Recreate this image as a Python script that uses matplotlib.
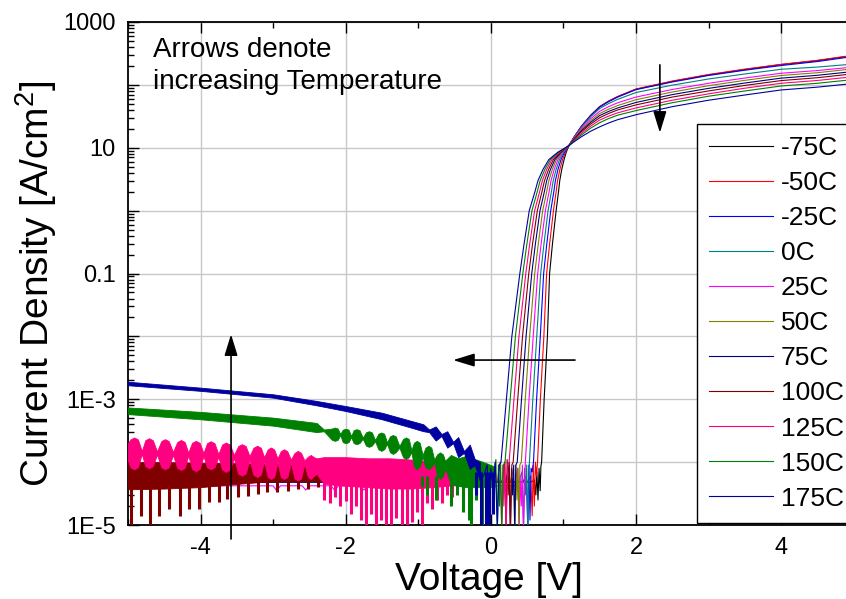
import matplotlib
matplotlib.use('Agg')
import matplotlib.pyplot as plt
import matplotlib.ticker as ticker

plt.rcParams['font.family'] = ['Liberation Sans', 'DejaVu Sans']
plt.rcParams['mathtext.fontset'] = 'custom'
plt.rcParams['mathtext.rm'] = 'Liberation Sans'
plt.rcParams['mathtext.it'] = 'Liberation Sans'

TEMPS = ['-75C', '-50C', '-25C', '0C', '25C', '50C', '75C', '100C', '125C', '150C', '175C']
COLORS = ['#000000', '#FF0000', '#0000FF', '#008080', '#FF00FF', '#808000',
          '#000080', '#800000', '#FF0080', '#008000', '#0000A0']

# forward turn-on: voltage at which each curve reaches these current densities
J_RISE = [1e-4, 1e-3, 1e-2, 0.1, 0.3, 1, 2, 3, 4.5, 6.5, 8.5, 10.8]
V_RISE = [
    [0.700, 0.735, 0.780, 0.810, 0.850, 0.900, 0.933, 0.950, 0.977, 1.010, 1.040, 1.076],
    [0.644, 0.683, 0.731, 0.769, 0.811, 0.863, 0.900, 0.920, 0.951, 0.989, 1.028, 1.076],
    [0.588, 0.631, 0.682, 0.728, 0.772, 0.826, 0.868, 0.890, 0.925, 0.968, 1.016, 1.076],
    [0.532, 0.579, 0.633, 0.687, 0.733, 0.789, 0.835, 0.860, 0.899, 0.947, 1.005, 1.076],
    [0.476, 0.527, 0.584, 0.646, 0.694, 0.752, 0.803, 0.830, 0.873, 0.926, 0.993, 1.076],
    [0.420, 0.475, 0.535, 0.605, 0.655, 0.715, 0.770, 0.800, 0.847, 0.905, 0.982, 1.076],
    [0.364, 0.423, 0.486, 0.564, 0.615, 0.678, 0.738, 0.770, 0.821, 0.884, 0.970, 1.076],
    [0.308, 0.371, 0.437, 0.523, 0.576, 0.641, 0.705, 0.740, 0.795, 0.863, 0.959, 1.076],
    [0.252, 0.319, 0.388, 0.482, 0.537, 0.604, 0.673, 0.710, 0.769, 0.842, 0.947, 1.076],
    [0.196, 0.267, 0.339, 0.441, 0.498, 0.567, 0.640, 0.680, 0.744, 0.821, 0.936, 1.076],
    [0.140, 0.215, 0.290, 0.400, 0.459, 0.530, 0.608, 0.650, 0.718, 0.800, 0.924, 1.076],
]

# high-injection part, current density at fixed voltages
V_HIGH = [1.15, 1.25, 1.375, 1.5, 1.625, 1.75, 2, 2.5, 3, 3.5, 4, 4.5, 4.95]
J_HIGH = [
    [14.9, 22, 32.6, 45, 55, 65, 85, 113.5, 144, 175, 210, 242, 288],
    [14.9, 22, 32.6, 45, 55.3, 65.5, 86, 115, 146, 178, 212, 246, 291],
    [14.9, 22, 32.4, 44.5, 54.3, 64, 84, 111, 141, 171, 203, 235, 278],
    [14.7, 21.5, 31, 42, 50.6, 59, 75.5, 99, 124, 149, 177, 192, 212],
    [14.4, 20.5, 28.8, 38, 45.2, 52, 64, 84.5, 106, 128.5, 153, 169, 190],
    [14.1, 19.5, 26.9, 35, 41.1, 47, 58, 77, 97, 118, 141, 156, 178],
    [13.8, 18.7, 25.3, 32.5, 37.9, 43, 52.5, 70, 88, 107, 128, 142, 161],
    [13.6, 18, 23.8, 30, 35.2, 40, 48, 64, 80, 98, 117, 130, 148],
    [13.2, 17, 22.1, 27.5, 31.9, 36, 43, 57, 72, 88.5, 106, 117.5, 133],
    [12.9, 16, 20.5, 25, 29.2, 33, 39, 52, 66, 80, 96, 106, 120],
    [12.5, 15, 18.3, 21.5, 24.8, 28, 33.5, 45, 57, 69, 83, 92, 104],
]

# reverse / noise floor part of each curve
V_LOW = [
    [-5.0, 0.55, 0.60, 0.62, 0.635, 0.65, 0.665, 0.68, 0.69],
    [-5.0, 0.50, 0.55, 0.57, 0.585, 0.60, 0.615, 0.63],
    [-5.0, 0.44, 0.49, 0.51, 0.525, 0.54, 0.555, 0.57],
    [-5.0, 0.38, 0.43, 0.45, 0.465, 0.48, 0.495, 0.51],
    [-5.0, -3.0, -2.95, -2.9, -2.6, -2.55, -2.5, -2.2, -2.15, -2.1, -1.8, -1.75, -1.7,
     0.33, 0.37, 0.39, 0.405, 0.42, 0.435, 0.45],
    [-5.0, 0.27, 0.31, 0.33, 0.345, 0.36, 0.375, 0.39, 0.40],
    [-5.0, 0.21, 0.25, 0.27, 0.285, 0.30, 0.315, 0.33, 0.345],
    [-5.0, 0.16, 0.19, 0.21, 0.225, 0.24, 0.255, 0.27, 0.29],
    [-0.45, 0.09, 0.13, 0.15, 0.165, 0.18, 0.195, 0.21, 0.235],
    [-0.30, 0.03, 0.07, 0.09, 0.105, 0.12, 0.135, 0.15, 0.175],
    [-0.20, -0.10, -0.05, -0.02, 0.0, 0.03, 0.06, 0.09, 0.115],
]
J_LOW = [
    [4.8e-5, 4.8e-5, 5.2e-5, 3e-5, 7e-5, 2.5e-5, 8e-5, 3.5e-5, 8.5e-5],
    [4.8e-5, 4.8e-5, 6e-5, 1.4e-5, 9e-5, 2e-5, 1e-4, 6e-5],
    [4.9e-5, 4.9e-5, 6e-5, 8e-6, 9e-5, 1.2e-5, 8e-5, 7e-5],
    [4.8e-5, 4.8e-5, 7e-5, 9e-6, 8e-5, 3e-5, 9e-5, 8e-6],
    [4.2e-5, 4.2e-5, 3.5e-5, 4.2e-5, 4.2e-5, 3.6e-5, 4.2e-5, 4.2e-5, 3.5e-5, 4.2e-5, 4.2e-5, 3.6e-5, 4.2e-5,
     4.2e-5, 8e-5, 8e-6, 6e-5, 2e-5, 9e-5, 8e-6],
    [4.8e-5, 4.8e-5, 8e-5, 8e-6, 9e-5, 2.5e-5, 8e-5, 8e-6, 9e-5],
    [4.8e-5, 4.8e-5, 9e-5, 8e-6, 8e-5, 3e-5, 9e-5, 8e-6, 9e-5],
    [5e-5, 5e-5, 1e-4, 8e-6, 1.1e-4, 3e-5, 1e-4, 8e-6, 9e-5],
    [5e-5, 5e-5, 1e-4, 8e-6, 9e-5, 2e-5, 1e-4, 8e-6, 9e-5],
    [5e-5, 5e-5, 1.1e-4, 8e-6, 9e-5, 2e-5, 1e-4, 8e-6, 9e-5],
    [8e-5, 6e-5, 9e-5, 8e-6, 8e-5, 4e-5, 1e-4, 9e-6, 9e-5],
]

# noisy reverse bands (upper / lower envelope) and spikes
DR_V = [-5.0, -4.5, -4.0, -3.5, -3.0, -2.5, -2.2]
DR_HI = [1.0e-4, 1.0e-4, 9.8e-5, 9.6e-5, 9.4e-5, 9.0e-5, 8.5e-5]
DR_LO = [3.7e-5, 3.8e-5, 4.0e-5, 4.5e-5, 5.0e-5, 5.1e-5, 5.2e-5]
DR_SPIKE_V = [-4.96, -4.82, -4.69, -4.57, -4.43, -4.29, -4.16, -4.02, -3.88, -3.74,
              -3.63, -3.49, -3.35, -3.21, -3.08, -2.94, -2.80, -2.66, -2.52, -2.38]
DR_SPIKE_J = [9e-6, 1.4e-5, 9e-6, 1.4e-5, 1.8e-5, 1.4e-5, 1.8e-5, 1.8e-5, 2.3e-5, 2.3e-5,
              2.6e-5, 2.8e-5, 2.9e-5, 3.1e-5, 3.3e-5, 3.3e-5, 3.5e-5, 3.7e-5, 3.7e-5, 4e-5]

PK_V = [-5.0,
        -4.967, -4.915, -4.863, -4.81,
        -4.762, -4.71, -4.658, -4.60,
        -4.542, -4.49, -4.438, -4.38,
        -4.322, -4.27, -4.218, -4.17,
        -4.117, -4.065, -4.013, -3.96,
        -3.912, -3.86, -3.808, -3.755,
        -3.702, -3.65, -3.598, -3.54,
        -3.482, -3.43, -3.378, -3.325,
        -3.272, -3.22, -3.168, -3.125,
        -3.075, -3.03, -2.985, -2.94,
        -2.895, -2.85, -2.805, -2.755,
        -2.705, -2.66, -2.615, -2.57,
        -2.52, -2.48, -2.44, -2.40,
        -2.3, -2.0, -1.7, -1.4, -1.1, -0.8, -0.6, -0.45]
PK_HI = [2.0e-4,
         2.3e-4, 2.47e-4, 2.3e-4, 1.5e-4,
         2.23e-4, 2.4e-4, 2.23e-4, 1.48e-4,
         2.16e-4, 2.32e-4, 2.16e-4, 1.45e-4,
         2.09e-4, 2.25e-4, 2.09e-4, 1.42e-4,
         2.03e-4, 2.18e-4, 2.03e-4, 1.4e-4,
         2.0e-4, 2.15e-4, 2.0e-4, 1.35e-4,
         1.91e-4, 2.05e-4, 1.91e-4, 1.3e-4,
         1.8e-4, 1.93e-4, 1.8e-4, 1.25e-4,
         1.69e-4, 1.82e-4, 1.69e-4, 1.2e-4,
         1.59e-4, 1.71e-4, 1.59e-4, 1.15e-4,
         1.49e-4, 1.6e-4, 1.49e-4, 1.1e-4,
         1.4e-4, 1.51e-4, 1.4e-4, 1.07e-4,
         1.22e-4, 1.3e-4, 1.2e-4, 1.15e-4,
         1.2e-4, 1.2e-4, 1.15e-4, 1.15e-4, 1.1e-4, 1.0e-4, 9.5e-5, 9e-5]
PK_LO = [1.05e-4,
         8.3e-5, 7.7e-5, 8.3e-5, 1.35e-4,
         8.6e-5, 8e-5, 8.6e-5, 1.32e-4,
         8.3e-5, 7.7e-5, 8.3e-5, 1.3e-4,
         8.1e-5, 7.5e-5, 8.1e-5, 1.27e-4,
         7.8e-5, 7.2e-5, 7.8e-5, 1.25e-4,
         8.3e-5, 7.7e-5, 8.3e-5, 1.2e-4,
         7.6e-5, 7e-5, 7.6e-5, 1.15e-4,
         6.6e-5, 6.1e-5, 6.6e-5, 1.1e-4,
         6.3e-5, 5.8e-5, 6.3e-5, 1.05e-4,
         5.8e-5, 5.4e-5, 5.8e-5, 1.0e-4,
         5.8e-5, 5.4e-5, 5.8e-5, 9.6e-5,
         5.5e-5, 5.1e-5, 5.5e-5, 9.3e-5,
         5.8e-5, 5.4e-5, 6e-5, 6.5e-5,
         4.5e-5, 4.2e-5, 4.0e-5, 3.8e-5, 3.8e-5, 4e-5, 4.2e-5, 4.5e-5]
PK_SPIKE_V = [-2.3, -2.22, -2.15, -2.08, -2.0, -1.93, -1.86, -1.79, -1.72, -1.65, -1.58, -1.51, -1.44,
              -1.37, -1.30, -1.23, -1.16, -1.09, -1.02, -0.95, -0.88, -0.81, -0.74, -0.67, -0.60, -0.53]
PK_SPIKE_J = [2.5e-5, 2.2e-5, 2.8e-5, 2e-5, 2.4e-5, 1.5e-5, 2e-5, 1.2e-5, 9e-6, 1.5e-5, 9e-6, 1.2e-5, 9e-6,
              9e-6, 1.3e-5, 9e-6, 9e-6, 1.1e-5, 1.6e-5, 9e-6, 2.2e-5, 1.8e-5, 2.5e-5, 2.2e-5, 3e-5, 2.8e-5]

GR_V = [-5.0, -4.0, -3.0, -2.4, -2.3,
        -2.19, -2.15, -2.11, -2.075,
        -2.04, -2.0, -1.96, -1.925,
        -1.89, -1.85, -1.81, -1.765,
        -1.72, -1.68, -1.64, -1.595,
        -1.55, -1.51, -1.47, -1.43,
        -1.39, -1.35, -1.31, -1.26,
        -1.21, -1.17, -1.13, -1.095,
        -1.06, -1.02, -0.98, -0.94,
        -0.90, -0.86, -0.82, -0.78,
        -0.74, -0.70, -0.66,
        -0.63, -0.55, -0.45, -0.35, -0.25, -0.15, -0.05, 0.05]
GR_HI = [7.4e-4, 6.3e-4, 5.1e-4, 4.2e-4, 3.3e-4,
         3.42e-4, 3.55e-4, 3.42e-4, 2.8e-4,
         3.28e-4, 3.4e-4, 3.28e-4, 2.6e-4,
         3.22e-4, 3.34e-4, 3.22e-4, 2.45e-4,
         2.98e-4, 3.1e-4, 2.98e-4, 2.25e-4,
         2.83e-4, 2.96e-4, 2.83e-4, 2.05e-4,
         2.57e-4, 2.7e-4, 2.57e-4, 1.8e-4,
         2.33e-4, 2.47e-4, 2.33e-4, 1.55e-4,
         2.03e-4, 2.18e-4, 2.03e-4, 1.3e-4,
         1.7e-4, 1.82e-4, 1.7e-4, 1.1e-4,
         1.33e-4, 1.43e-4, 1.33e-4,
         1.05e-4, 1.3e-4, 1.15e-4, 1.25e-4, 1.15e-4, 1.05e-4, 9.5e-5, 8.5e-5]
GR_LO = [5.8e-4, 4.8e-4, 3.8e-4, 3.0e-4, 3.1e-4,
         2.26e-4, 2.18e-4, 2.26e-4, 2.7e-4,
         2.08e-4, 2.0e-4, 2.08e-4, 2.5e-4,
         2.01e-4, 1.93e-4, 2.01e-4, 2.35e-4,
         1.83e-4, 1.75e-4, 1.83e-4, 2.15e-4,
         1.6e-4, 1.51e-4, 1.6e-4, 1.95e-4,
         1.44e-4, 1.35e-4, 1.44e-4, 1.7e-4,
         1.2e-4, 1.12e-4, 1.2e-4, 1.45e-4,
         8.5e-5, 7.7e-5, 8.5e-5, 1.2e-4,
         8.3e-5, 7.7e-5, 8.3e-5, 1.0e-4,
         6e-5, 5.4e-5, 6e-5,
         8e-5, 4.5e-5, 4.2e-5, 4.0e-5, 4.0e-5, 4.0e-5, 4.0e-5, 4.0e-5]
GR_SPIKE_V = [-0.95, -0.88, -0.75, -0.55, -0.47, -0.38, -0.30, -0.27, -0.2, -0.12, -0.05]
GR_SPIKE_J = [4e-5, 3e-5, 2.5e-5, 2e-5, 3e-5, 1.6e-5, 1.2e-5, 9e-6, 2.5e-5, 9e-6, 2e-5]

NV_V = [-5.0, -4.0, -3.0, -2.4, -2.0, -1.5, -1.12, -0.93, -0.85, -0.76, -0.68, -0.60, -0.52,
        -0.45, -0.37, -0.29, -0.22, -0.15]
NV_HI = [1.9e-3, 1.53e-3, 1.2e-3, 9.4e-4, 7.8e-4, 6.1e-4, 4.6e-4, 4.0e-4, 3.3e-4, 3.7e-4, 2.8e-4, 3.1e-4,
         2.1e-4, 2.5e-4, 1.5e-4, 1.9e-4, 1.1e-4, 1.0e-4]
NV_LO = [1.67e-3, 1.36e-3, 1.06e-3, 8.0e-4, 6.5e-4, 4.8e-4, 3.6e-4, 3.1e-4, 3.0e-4, 2.2e-4, 2.6e-4, 1.7e-4,
         2.0e-4, 1.2e-4, 1.4e-4, 7.8e-5, 9e-5, 5e-5]
NV_SPIKE_V = [-0.20, -0.13, -0.07, -0.02, 0.03]
NV_SPIKE_J = [3e-5, 9e-6, 9e-6, 9e-6, 1.5e-5]

BANDS = {
    '100C': (DR_V, DR_LO, DR_HI, DR_SPIKE_V, DR_SPIKE_J, 6e-5),
    '125C': (PK_V, PK_LO, PK_HI, PK_SPIKE_V, PK_SPIKE_J, 6e-5),
    '150C': (GR_V, GR_LO, GR_HI, GR_SPIKE_V, GR_SPIKE_J, 6e-5),
    '175C': (NV_V, NV_LO, NV_HI, NV_SPIKE_V, NV_SPIKE_J, 7e-5),
}

X_MAJOR = [-4, -2, 0, 2, 4]
X_LABELS = ['-4', '-2', '0', '2', '4']
X_MINOR = [-5, -3, -1, 1, 3]
Y_DECADES = [1e-5, 1e-4, 1e-3, 1e-2, 0.1, 1, 10, 100, 1000]
Y_LABELS = {1e-5: '1E-5', 1e-3: '1E-3', 0.1: '0.1', 10: '10', 1000: '1000'}


def main():
    W, H = 846, 599
    fig = plt.figure(figsize=(W / 100, H / 100), dpi=100)
    ax = fig.add_axes([128 / W, 1 - 525 / H, (850 - 128) / W, (525 - 22) / H])
    ax.set_yscale('log')

    lines = []
    for i, (temp, col) in enumerate(zip(TEMPS, COLORS)):
        z = 3 + i * 0.1
        if temp in BANDS:
            bv, blo, bhi, sv, sj, base = BANDS[temp]
            ax.fill_between(bv, blo, bhi, color=col, lw=0.6, zorder=z)
            ax.vlines(sv, sj, base, color=col, lw=2.2, zorder=z)
        vv = V_LOW[i] + V_RISE[i] + V_HIGH
        jj = J_LOW[i] + J_RISE + J_HIGH[i]
        ln, = ax.plot(vv, jj, color=col, lw=0.8, label=temp, zorder=z)
        lines.append(ln)

    ax.set_xlim(-5, 4.95)
    ax.set_ylim(1e-5, 1000)

    ax.xaxis.set_major_locator(ticker.FixedLocator(X_MAJOR))
    ax.xaxis.set_major_formatter(ticker.FixedFormatter(X_LABELS))
    ax.xaxis.set_minor_locator(ticker.FixedLocator(X_MINOR))
    ax.yaxis.set_major_locator(ticker.FixedLocator(Y_DECADES))
    ax.yaxis.set_major_formatter(ticker.FuncFormatter(
        lambda v, p: next((s for k, s in Y_LABELS.items() if abs(v / k - 1) < 1e-6), '')))
    ax.yaxis.set_minor_locator(ticker.LogLocator(base=10, subs=range(2, 10), numticks=20))
    ax.yaxis.set_minor_formatter(ticker.NullFormatter())

    ax.tick_params(which='both', direction='in', top=True, right=False, width=1.0)
    ax.tick_params(which='major', length=8, labelsize=17, pad=9)
    ax.tick_params(which='minor', length=4.5)
    for sp in ax.spines.values():
        sp.set_linewidth(1.3)

    ax.grid(True, which='major', color='#c8c8c8', lw=1.0)
    ax.set_axisbelow(True)

    ax.set_xlabel('Voltage [V]', fontsize=28, labelpad=2)
    ax.set_ylabel('Current Density [A/cm$^2$]', fontsize=28)
    ax.yaxis.set_label_coords(-0.095, 0.48)

    ax.text(25 / 722, 0.97, 'Arrows denote\nincreasing Temperature',
            transform=ax.transAxes, fontsize=20, va='top', ha='left', linespacing=1.3)

    arrow = dict(arrowstyle='-|>,head_length=1.3,head_width=0.4', color='black',
                 lw=1.2, shrinkA=0, shrinkB=0, mutation_scale=10)
    ax.annotate('', xy=(2.33, 17.3), xytext=(2.33, 208), arrowprops=arrow, zorder=10)
    ax.annotate('', xy=(-0.52, 4.2e-3), xytext=(1.16, 4.2e-3), arrowprops=arrow, zorder=10)
    ax.annotate('', xy=(-3.58, 1.08e-2), xytext=(-3.58, 6e-6), arrowprops=arrow,
                annotation_clip=False, zorder=10)

    leg = ax.legend(handles=lines, loc='upper left',
                    bbox_to_anchor=(697 / W, 1 - 124 / H), bbox_transform=fig.transFigure,
                    borderaxespad=0, fontsize=19, frameon=True, fancybox=False,
                    edgecolor='black', framealpha=1, handlelength=2.42,
                    handletextpad=0.3, labelspacing=0.42, borderpad=0.45)
    leg.get_frame().set_linewidth(1.0)
    leg.set_zorder(20)

    fig.savefig('out.png', dpi=100)
    plt.close()


if __name__ == "__main__":
    main()
